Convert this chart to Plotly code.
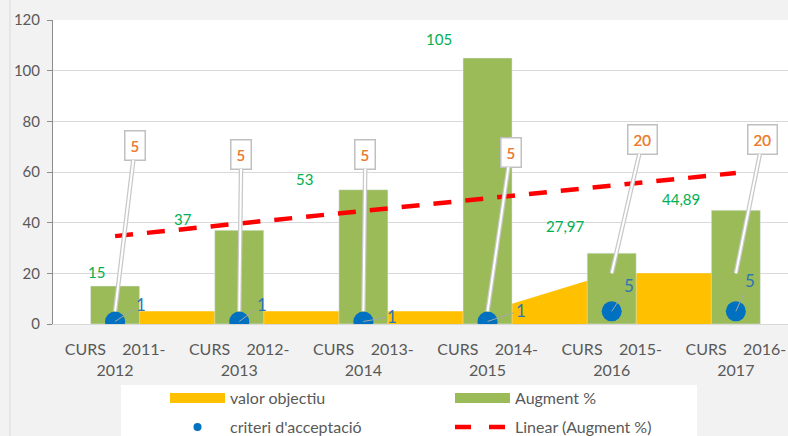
import numpy as np
import plotly.graph_objects as go

# ---- data ----
categories = ["CURS 2011-2012", "CURS 2012-2013", "CURS 2013-2014",
              "CURS 2014-2015", "CURS 2015-2016", "CURS 2016-2017"]
tick_labels = ["CURS\u00a0\u00a0\u00a0\u00a02011-<br>2012",
               "CURS\u00a0\u00a0\u00a0\u00a02012-<br>2013",
               "CURS\u00a0\u00a0\u00a0\u00a02013-<br>2014",
               "CURS\u00a0\u00a0\u00a0\u00a02014-<br>2015",
               "CURS\u00a0\u00a0\u00a0\u00a02015-<br>2016",
               "CURS\u00a0\u00a0\u00a0\u00a02016-<br>2017"]
valor_objectiu = [5, 5, 5, 5, 20, 20]
augment = [15, 37, 53, 105, 27.97, 44.89]
criteri = [1, 1, 1, 1, 5, 5]
y_ticks = [0, 20, 40, 60, 80, 100, 120]

# linear trendline of Augment %
idx = np.arange(len(augment))
slope, intercept = np.polyfit(idx, augment, 1)
trend = list(slope * idx + intercept)

# ---- label placement (pixel offsets) ----
green_shift = [(-19, 14), (-56, 11), (-59, 11), (-49, 19), (-46, 27), (-55, 11)]
orange_off = [(20, -166), (2, -157), (2, -157), (23, -159), (31, -134), (27, -134)]
blue_off = [(26, -17), (23, -17), (29, -5), (33, -11), (17, -26), (14, -31)]

FONT = "Lato, 'Open Sans', sans-serif"
W, H = 788, 436
L, R, T, B = 53, 0, 20, 112
PW, PH = W - L - R, H - T - B


def px_x(px):
    return (px - L) / PW


def px_y(py):
    return (H - B - py) / PH


def fmt(v):
    return f"{v:g}".replace(".", ",")


fig = go.Figure()

# area (base axes, drawn under bars)
fig.add_trace(go.Scatter(x=categories, y=valor_objectiu, fill="tozeroy",
                         mode="none", fillcolor="#FFC000", name="valor objectiu",
                         showlegend=False, xaxis="x", yaxis="y",
                         hoverinfo="skip"))
# bars (overlay axes)
fig.add_trace(go.Bar(x=categories, y=augment, marker_color="#9BBB59",
                     width=0.395, name="Augment %", showlegend=False,
                     xaxis="x2", yaxis="y2"))
fig.add_trace(go.Scatter(x=categories, y=trend, mode="lines",
                         line=dict(color="#FF0000", width=4.5, dash="18px,14px"),
                         name="Linear (Augment %)", showlegend=False,
                         xaxis="x2", yaxis="y2"))
fig.add_trace(go.Scatter(x=categories, y=criteri, mode="markers",
                         marker=dict(size=20, color="#0070C0"),
                         name="criteri d'acceptació", showlegend=False,
                         xaxis="x2", yaxis="y2"))

# legend entries
fig.add_trace(go.Scatter(x=[None], y=[None], mode="lines", name="valor objectiu",
                         line=dict(color="#FFC000", width=11), legend="legend",
                         xaxis="x2", yaxis="y2"))
fig.add_trace(go.Scatter(x=[None], y=[None], mode="lines", name="Augment %",
                         line=dict(color="#9BBB59", width=11), legend="legend",
                         xaxis="x2", yaxis="y2"))
fig.add_trace(go.Scatter(x=[None], y=[None], mode="markers",
                         name="criteri d'acceptació",
                         marker=dict(size=8, color="#0070C0"), legend="legend2",
                         xaxis="x2", yaxis="y2"))
fig.add_trace(go.Scatter(x=[None], y=[None], mode="lines",
                         name="Linear (Augment %)",
                         line=dict(color="#FF0000", width=4.5, dash="16px,18px"),
                         legend="legend2", xaxis="x2", yaxis="y2"))

annotations = []
# green value labels
for c, v, (dx, dy) in zip(categories, augment, green_shift):
    annotations.append(dict(x=c, y=v, xref="x", yref="y", text=fmt(v),
                            showarrow=False, xshift=dx, yshift=dy,
                            font=dict(family=FONT, size=15, color="#00B050")))
# orange callouts (wedge imitation: grey thick + white thin)
for c, v, (ax, ay) in zip(categories, valor_objectiu, orange_off):
    annotations.append(dict(x=c, y=v, xref="x", yref="y", text=fmt(v),
                            showarrow=True, arrowhead=0, arrowwidth=4.5,
                            arrowcolor="#c8c8c8", ax=ax, ay=ay,
                            bgcolor="white", bordercolor="#c0c0c0",
                            borderwidth=1.5, borderpad=5,
                            font=dict(family=FONT, size=15, color="#ED7D31")))
    annotations.append(dict(x=c, y=v, xref="x", yref="y", text=fmt(v),
                            showarrow=True, arrowhead=0, arrowwidth=2,
                            arrowcolor="white", ax=ax, ay=ay,
                            bgcolor="rgba(0,0,0,0)", bordercolor="rgba(0,0,0,0)",
                            borderwidth=1.5, borderpad=5,
                            font=dict(family=FONT, size=15, color="#ED7D31")))
# blue labels
for c, v, (ax, ay) in zip(categories, criteri, blue_off):
    annotations.append(dict(x=c, y=v, xref="x", yref="y", text=fmt(v),
                            showarrow=True, arrowhead=0, arrowwidth=1,
                            arrowcolor="#a6a6a6", ax=ax, ay=ay,
                            font=dict(family=FONT, size=17, color="#2E75B6")))

shapes = [
    dict(type="rect", xref="paper", yref="paper", layer="below",
         x0=px_x(121), x1=px_x(697), y0=px_y(385), y1=px_y(437),
         fillcolor="white", line=dict(width=0)),
    dict(type="line", xref="paper", yref="paper", layer="below",
         x0=px_x(10), x1=px_x(10), y0=px_y(0), y1=px_y(437),
         line=dict(color="#d9d9d9", width=1)),
]

xr = [-0.5, 5.42]
fig.update_layout(
    width=W, height=H,
    margin=dict(l=L, r=R, t=T, b=B, pad=0, autoexpand=False),
    paper_bgcolor="#f2f2f2", plot_bgcolor="white",
    font=dict(family=FONT, size=15, color="#595959"),
    bargap=0.6,
    xaxis=dict(type="category", range=xr, categoryorder="array",
               categoryarray=categories, tickvals=categories,
               ticktext=tick_labels, showgrid=False, showline=True,
               linecolor="#d9d9d9", linewidth=1, ticks="",
               ticklabelstandoff=11,
               tickfont=dict(family=FONT, size=16, color="#595959"),
               fixedrange=True),
    xaxis2=dict(type="category", range=xr, categoryorder="array",
                categoryarray=categories, overlaying="x", visible=False),
    yaxis=dict(range=[0, 120], tickvals=y_ticks, showgrid=True,
               gridcolor="#d9d9d9", gridwidth=1, zeroline=False,
               showline=True, linecolor="#8c8c8c", linewidth=1,
               ticks="outside", ticklen=5, tickcolor="#8c8c8c",
               ticklabelstandoff=4,
               tickfont=dict(family=FONT, size=15, color="#595959")),
    yaxis2=dict(range=[0, 120], overlaying="y", visible=False),
    legend=dict(orientation="h", xref="container", yref="container",
                x=165 / W, y=1 - 398 / H, xanchor="left", yanchor="middle",
                bgcolor="rgba(0,0,0,0)", entrywidth=215, itemwidth=55,
                font=dict(family=FONT, size=16, color="#595959"),
                traceorder="normal"),
    legend2=dict(orientation="h", xref="container", yref="container",
                 x=165 / W, y=1 - 427 / H, xanchor="left", yanchor="middle",
                 bgcolor="rgba(0,0,0,0)", entrywidth=215, itemwidth=55,
                 font=dict(family=FONT, size=16, color="#595959"),
                 traceorder="normal"),
    annotations=annotations,
    shapes=shapes,
    showlegend=True,
)

fig.write_html("out.html",
               config={"displayModeBar": False},
               post_script="document.body.style.margin='0px';"
                           "document.body.style.overflow='hidden';")
